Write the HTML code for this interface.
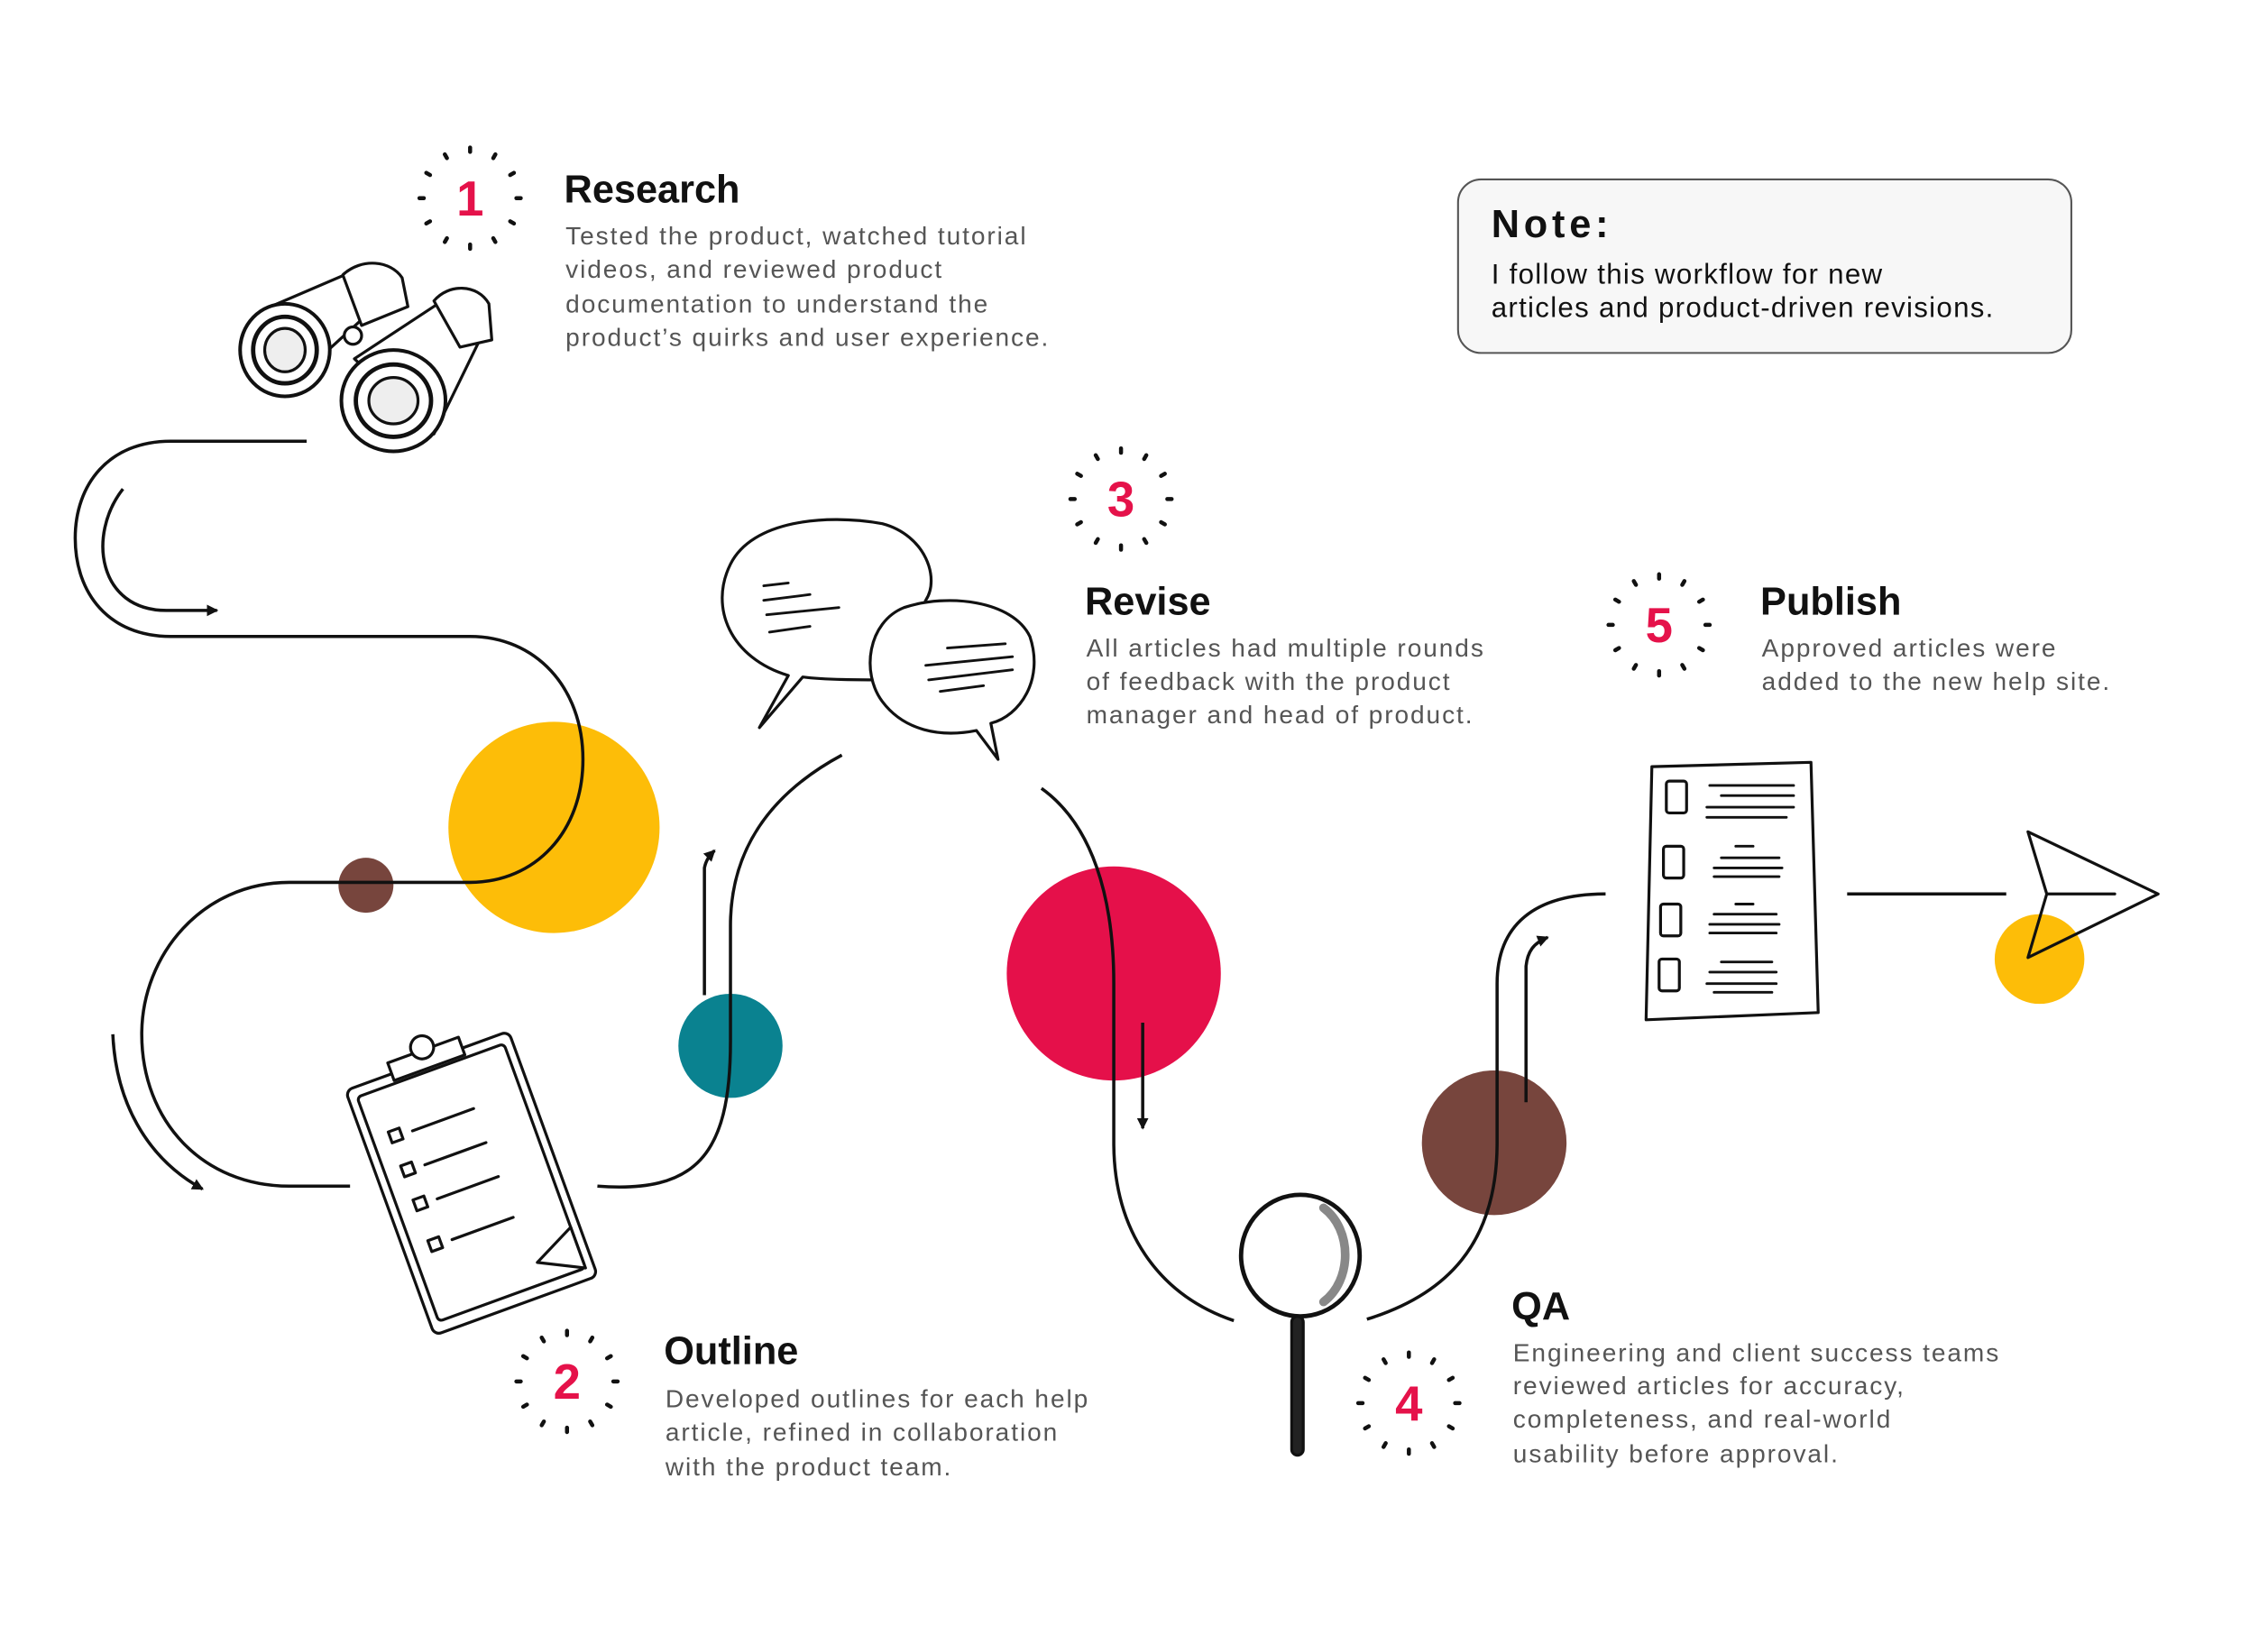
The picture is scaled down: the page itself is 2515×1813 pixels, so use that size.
<!DOCTYPE html>
<html><head><meta charset="utf-8"><style>
html,body{margin:0;padding:0;background:#fff;}
svg{display:block;}
.h{font-family:"Liberation Sans",sans-serif;font-weight:bold;font-size:27px;fill:#111;}
.b{font-family:"Liberation Sans",sans-serif;font-size:17.5px;fill:#555;letter-spacing:1.2px;}
.n{font-family:"Liberation Sans",sans-serif;font-weight:bold;font-size:34px;fill:#e5124a;}
.p{fill:none;stroke:#111;stroke-width:2.2;stroke-linecap:butt;}
.s{fill:none;stroke:#111;stroke-width:2;stroke-linecap:round;stroke-linejoin:round;}
</style></head><body>
<svg width="2515" height="1813" viewBox="0 0 2515 1813" xmlns="http://www.w3.org/2000/svg">
<defs>
<marker id="ah" markerWidth="8" markerHeight="8" refX="7" refY="4" orient="auto" markerUnits="userSpaceOnUse"><path d="M0,0 L8,4 L0,8 Z" fill="#111"/></marker>
<g id="badge">
<g stroke="#111" stroke-width="2.8" stroke-linecap="round">
<line x1="0" y1="-35" x2="0" y2="-32"/><line x1="17.5" y1="-30.3" x2="16" y2="-27.7"/><line x1="30.3" y1="-17.5" x2="27.7" y2="-16"/>
<line x1="35" y1="0" x2="32" y2="0"/><line x1="30.3" y1="17.5" x2="27.7" y2="16"/><line x1="17.5" y1="30.3" x2="16" y2="27.7"/>
<line x1="0" y1="35" x2="0" y2="32"/><line x1="-17.5" y1="30.3" x2="-16" y2="27.7"/><line x1="-30.3" y1="17.5" x2="-27.7" y2="16"/>
<line x1="-35" y1="0" x2="-32" y2="0"/><line x1="-30.3" y1="-17.5" x2="-27.7" y2="-16"/><line x1="-17.5" y1="-30.3" x2="-16" y2="-27.7"/>
</g></g>
</defs>
<g transform="scale(1.604)">
<circle cx="383" cy="572" r="73" fill="#fdbd08"/>
<circle cx="253" cy="612" r="19" fill="#77453d"/>
<circle cx="505" cy="723" r="36" fill="#0a8290"/>
<circle cx="770" cy="673" r="74" fill="#e5104a"/>
<circle cx="1033" cy="790" r="50" fill="#77453d"/>
<circle cx="1410" cy="663" r="31" fill="#fdbd08"/>

<path class="p" d="M212,305 H118 C75,305 52,335 52,372 C52,410 75,440 118,440 H325 C370,440 403,475 403,525 C403,575 370,610 325,610 H200 C140,610 98,660 98,715 C98,775 140,820 200,820 H242"/>
<path class="p" d="M85,338 C60,370 68,422 115,422 H150" marker-end="url(#ah)"/>
<path class="p" d="M78,715 C80,760 100,800 140,822" marker-end="url(#ah)"/>
<path class="p" d="M413,820 C480,825 505,800 505,720 V640 C505,590 530,550 582,522"/>
<path class="p" d="M487,688 V600 C488,595 490,592 494,588" marker-end="url(#ah)"/>
<path class="p" d="M720,545 C755,570 770,620 770,680 V790 C770,850 800,895 853,913"/>
<path class="p" d="M790,707 V780" marker-end="url(#ah)"/>
<path class="p" d="M945,912 C1000,895 1035,860 1035,790 V680 C1035,640 1060,618 1110,618"/>
<path class="p" d="M1055,762 V668 C1056,658 1060,652 1070,648" marker-end="url(#ah)"/>
<line class="p" x1="1277" y1="618" x2="1387" y2="618"/>
<path class="s" d="M1402,575 L1492,618 L1402,662 L1415,618 Z M1415,618 H1462"/>

<rect x="1008" y="124" width="424" height="120" rx="16" fill="#f7f7f7" stroke="#555" stroke-width="1.3"/>
<text x="1031" y="164" style="font-family:'Liberation Sans',sans-serif;font-weight:bold;font-size:27px;letter-spacing:3px;fill:#111">Note:</text>
<text x="1031" y="196" style="font-family:'Liberation Sans',sans-serif;font-size:19.5px;letter-spacing:0.8px;fill:#111">I follow this workflow for new</text>
<text x="1031" y="219" style="font-family:'Liberation Sans',sans-serif;font-size:19.5px;letter-spacing:0.8px;fill:#111">articles and product-driven revisions.</text>

<use href="#badge" x="325" y="137"/><text class="n" x="325" y="149" text-anchor="middle">1</text>
<use href="#badge" x="392" y="955"/><text class="n" x="392" y="967" text-anchor="middle">2</text>
<use href="#badge" x="775" y="345"/><text class="n" x="775" y="357" text-anchor="middle">3</text>
<use href="#badge" x="974" y="970"/><text class="n" x="974" y="982" text-anchor="middle">4</text>
<use href="#badge" x="1147" y="432"/><text class="n" x="1147" y="444" text-anchor="middle">5</text>

<text class="h" x="390" y="140">Research</text>
<text class="b" x="391" y="169">Tested the product, watched tutorial</text>
<text class="b" x="391" y="192">videos, and reviewed product</text>
<text class="b" x="391" y="216">documentation to understand the</text>
<text class="b" x="391" y="239">product’s quirks and user experience.</text>

<text class="h" x="750" y="425">Revise</text>
<text class="b" x="751" y="454">All articles had multiple rounds</text>
<text class="b" x="751" y="477">of feedback with the product</text>
<text class="b" x="751" y="500">manager and head of product.</text>

<text class="h" x="1217" y="425">Publish</text>
<text class="b" x="1218" y="454">Approved articles were</text>
<text class="b" x="1218" y="477">added to the new help site.</text>

<text class="h" x="459" y="943">Outline</text>
<text class="b" x="460" y="973">Developed outlines for each help</text>
<text class="b" x="460" y="996">article, refined in collaboration</text>
<text class="b" x="460" y="1020">with the product team.</text>

<text class="h" x="1045" y="912">QA</text>
<text class="b" x="1046" y="941">Engineering and client success teams</text>
<text class="b" x="1046" y="964">reviewed articles for accuracy,</text>
<text class="b" x="1046" y="987">completeness, and real-world</text>
<text class="b" x="1046" y="1011">usability before approval.</text>

<g class="s" stroke-width="2">
<path d="M180,215 L250,185 L262,210 L205,262 Z" fill="#fff"/>
<path d="M245,248 L318,200 L338,222 L300,300 Z" fill="#fff"/>
<path d="M237,190 C250,178 270,180 278,192 L282,212 L250,225 Z" fill="#fff"/>
<path d="M300,208 C310,196 330,196 338,210 L340,235 L318,240 Z" fill="#fff"/>
<ellipse cx="197" cy="242" rx="31" ry="32" fill="#fff" stroke-width="2.5"/>
<ellipse cx="197" cy="242" rx="22" ry="23" fill="#fff" stroke-width="3"/>
<ellipse cx="197" cy="242" rx="14" ry="15" fill="#eee"/>
<ellipse cx="272" cy="277" rx="36" ry="35" fill="#fff" stroke-width="2.5"/>
<ellipse cx="272" cy="277" rx="26" ry="25" fill="#fff" stroke-width="3"/>
<ellipse cx="272" cy="277" rx="17" ry="16" fill="#eee"/>
<circle cx="244" cy="232" r="6" fill="#fff"/>
</g>

<g class="s" stroke-width="2.5">
<path d="M545,467 C505,455 490,420 505,390 C520,360 570,355 610,362 C640,370 650,400 640,415 L615,470 C595,470 570,470 555,468 L525,503 Z" fill="#fff"/>
<path d="M610,485 C595,465 600,430 625,420 C655,410 700,415 712,440 C722,470 705,495 685,500 L690,525 L675,505 C650,510 625,505 610,485 Z" fill="#fff"/>
<path d="M528,405 L545,403 M528,415 L560,411 M530,425 L580,420 M532,437 L560,433" stroke-width="1.8"/>
<path d="M655,448 L695,445 M640,460 L700,454 M642,470 L700,463 M650,478 L680,474" stroke-width="1.8"/>
</g>

<g class="s" stroke-width="2.3" transform="rotate(-20 326 818)">
<rect x="266" y="728" width="120" height="180" rx="5" fill="#fff"/>
<rect x="272" y="735" width="108" height="165" rx="3" fill="#fff"/>
<path d="M300,733 V720 H352 V733 Z" fill="#fff"/>
<circle cx="326" cy="718" r="8" fill="#fff"/>
<rect x="284" y="765" width="8" height="8"/><line x1="300" y1="770" x2="345" y2="770"/>
<rect x="284" y="790" width="8" height="8"/><line x1="300" y1="795" x2="345" y2="795"/>
<rect x="284" y="815" width="8" height="8"/><line x1="300" y1="820" x2="345" y2="820"/>
<rect x="284" y="845" width="8" height="8"/><line x1="300" y1="850" x2="345" y2="850"/>
<path d="M350,885 L380,870 L380,900 Z" fill="#fff"/>
</g>

<g class="s">
<ellipse cx="899" cy="868" rx="41" ry="42" fill="#fff" stroke-width="3"/>
<path d="M915,835 C935,850 935,885 915,900" stroke="#888" stroke-width="6"/>
<rect x="893" y="910" width="8" height="96" rx="4" fill="#222"/>
</g>

<g class="s" stroke-width="2.5">
<path d="M1142,530 L1252,527 L1257,700 L1138,705 Z" fill="#fff"/>
<rect x="1152" y="540" width="14" height="22" rx="2"/><rect x="1150" y="585" width="14" height="22" rx="2"/>
<rect x="1148" y="625" width="14" height="22" rx="2"/><rect x="1147" y="663" width="14" height="22" rx="2"/>
<path d="M1182,543 H1240 M1190,550 H1240 M1180,558 H1240 M1180,565 H1235" stroke-width="1.8"/>
<path d="M1200,585 H1212 M1190,593 H1230 M1185,600 H1232 M1185,606 H1230" stroke-width="1.8"/>
<path d="M1200,625 H1212 M1185,632 H1228 M1182,639 H1230 M1182,645 H1228" stroke-width="1.8"/>
<path d="M1190,665 H1225 M1182,672 H1228 M1180,680 H1228 M1185,686 H1225" stroke-width="1.8"/>
</g>
</g>
</svg>
</body></html>
